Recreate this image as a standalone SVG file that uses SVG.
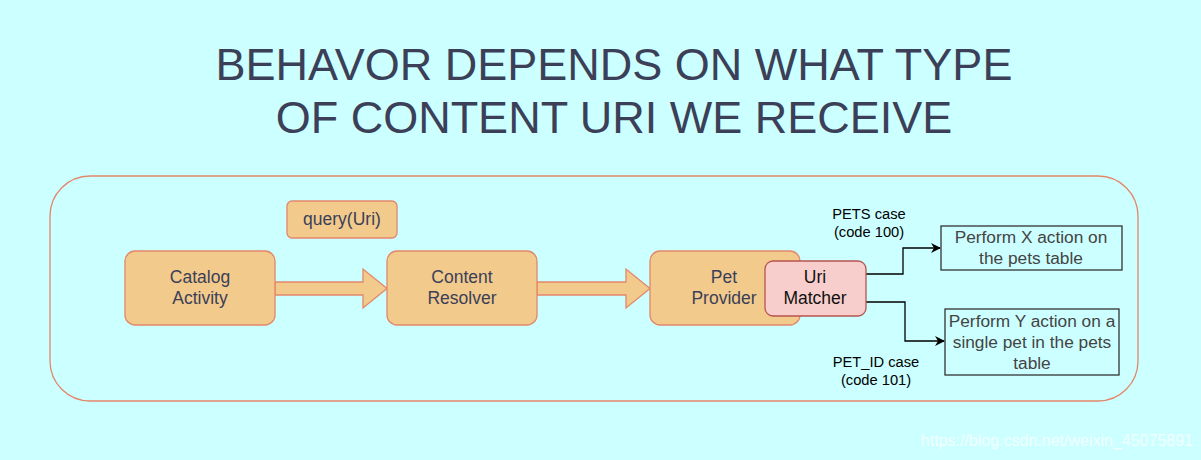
<svg xmlns="http://www.w3.org/2000/svg" width="1201" height="460" viewBox="0 0 1201 460">
<defs>
<style>
.t{font-family:"Liberation Sans",Arial,sans-serif;fill:#3b3f58}
.title{font-size:45px;text-anchor:middle}
.node{fill:#f2ca8c;stroke:#e3876a;stroke-width:1.3}
.nt{font-size:17.5px;text-anchor:middle}
.box{fill:none;stroke:#333;stroke-width:1.3}
.bt{font-family:"Liberation Sans",Arial,sans-serif;fill:#444;font-size:17.3px;text-anchor:middle}
.lbl{font-family:"Liberation Sans",Arial,sans-serif;fill:#000;font-size:14.7px;text-anchor:middle}
.conn{fill:none;stroke:#000;stroke-width:1.3}
.fat{fill:#f2ca8c;stroke:#e3876a;stroke-width:1.3}
</style>
<marker id="ah" viewBox="0 0 10 10" refX="9" refY="5" markerWidth="10" markerHeight="10" markerUnits="userSpaceOnUse" orient="auto">
<path d="M0,0 L10,5 L0,10 L3,5 Z" fill="#000"/>
</marker>
</defs>
<rect width="1201" height="460" fill="#ccffff"/>
<g id="title">
<text class="t title" x="614" y="80">BEHAVOR DEPENDS ON WHAT TYPE</text>
<text class="t title" x="614" y="133">OF CONTENT URI WE RECEIVE</text>
</g>
<g id="container"><rect x="50" y="176" width="1088" height="225" rx="40" ry="40" fill="none" stroke="#e3876a" stroke-width="1.3"/></g>
<g id="connectors">
<path class="fat" d="M275,282 L363,282 L363,269 L387,288.5 L363,308 L363,295 L275,295 Z"/>
<path class="fat" d="M537,282 L626,282 L626,269 L650,288.5 L626,308 L626,295 L537,295 Z"/>
<path class="conn" d="M866,274 L903,274 L903,248 L940,248" marker-end="url(#ah)"/>
<path class="conn" d="M866,302 L905,302 L905,341 L944,341" marker-end="url(#ah)"/>
<text class="lbl" x="869" y="219">PETS case</text>
<text class="lbl" x="869" y="237">(code 100)</text>
<text class="lbl" x="876" y="367">PET_ID case</text>
<text class="lbl" x="876" y="385">(code 101)</text>
</g>
<g id="query"><rect class="node" x="287" y="201" width="110" height="37" rx="5"/><text class="t nt" x="342" y="225">query(Uri)</text></g>
<g id="catalog"><rect class="node" x="125" y="251" width="150" height="74" rx="10"/><text class="t nt" x="200" y="283">Catalog</text><text class="t nt" x="200" y="304">Activity</text></g>
<g id="resolver"><rect class="node" x="387" y="251" width="150" height="74" rx="10"/><text class="t nt" x="462" y="283">Content</text><text class="t nt" x="462" y="304">Resolver</text></g>
<g id="provider"><rect class="node" x="650" y="251" width="150" height="74" rx="10"/><text class="t nt" x="724" y="283">Pet</text><text class="t nt" x="724" y="304">Provider</text></g>
<g id="matcher"><rect x="765" y="261" width="101" height="55" rx="8" fill="#f8cecc" stroke="#b85450" stroke-width="1.3"/><text class="nt" x="815" y="283" style="font-family:'Liberation Sans',Arial,sans-serif;fill:#111">Uri</text><text class="nt" x="815" y="304" style="font-family:'Liberation Sans',Arial,sans-serif;fill:#111">Matcher</text></g>
<g id="actionX"><rect class="box" x="941" y="226" width="181" height="44"/><text class="bt" x="1031" y="243">Perform X action on</text><text class="bt" x="1031" y="264">the pets table</text></g>
<g id="actionY"><rect class="box" x="945" y="309" width="174" height="66"/><text class="bt" x="1032" y="327">Perform Y action on a</text><text class="bt" x="1032" y="348">single pet in the pets</text><text class="bt" x="1032" y="369">table</text></g>
<text x="1193" y="446" text-anchor="end" style="font-family:'Liberation Sans',Arial,sans-serif;font-size:16px;fill:#ffffff;fill-opacity:0.75">https://blog.csdn.net/weixin_45075891</text>
</svg>
